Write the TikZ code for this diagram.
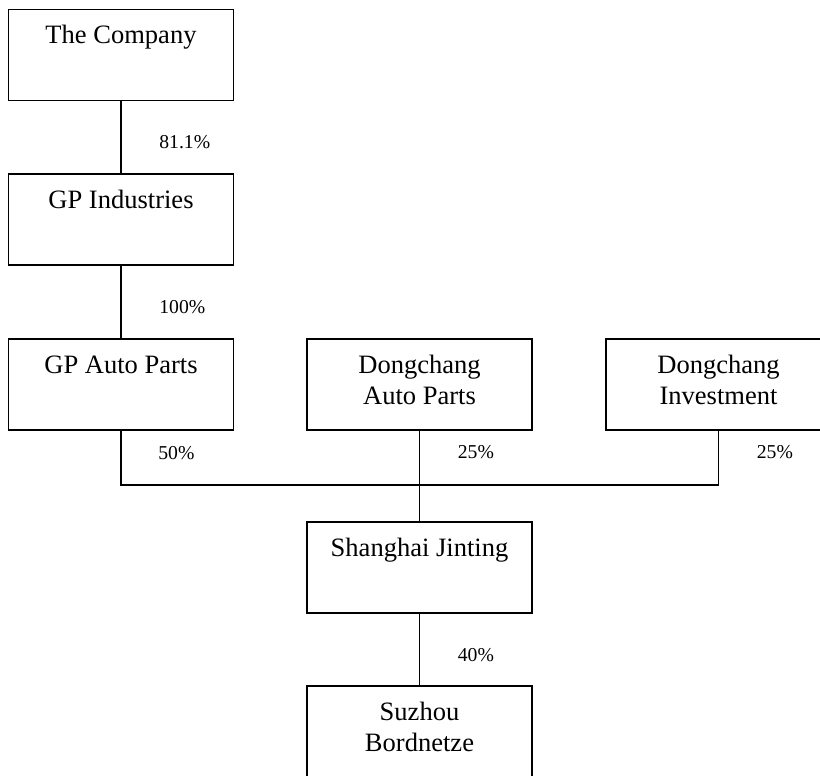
\documentclass[tikz,border=0pt]{standalone}
\usepackage{fontspec}
\setmainfont{Liberation Serif}
\usepackage{xcolor}
\usetikzlibrary{calc}
\definecolor{ink}{HTML}{000000}
\definecolor{paper}{HTML}{FFFFFF}
\tikzset{
  box/.style={draw=ink, line width=1.1pt, minimum width=4.5cm, minimum height=1.82cm, inner sep=0pt},
  link/.style={draw=ink, line width=1.1pt},
  boxtext/.style={text=ink, font=\fontsize{15.1}{17.6}\selectfont, align=center, anchor=base, inner sep=0pt},
  pct/.style={text=ink, font=\fontsize{11.2}{13}\selectfont, anchor=base west, inner sep=0pt}
}

\begin{document}
\begin{tikzpicture}[x=0.02cm, y=-0.02cm]
  \useasboundingbox (0,0) rectangle (820,775);
  \clip (0,0) rectangle (820,775);
  \fill[paper] (0,0) rectangle (820,775);

  \node[box] (comp)   at (121,55)      {};
  \node[box] (gpind)  at (121,219.5)   {};
  \node[box] (gpauto) at (121,384.5)   {};
  \node[box] (dcauto) at (419.5,384.5) {};
  \node[box] (dcinv)  at (718.5,384.5) {};
  \node[box] (jt)     at (419.5,567.5) {};
  \node[box] (sz)     at (419.5,731.5) {};

  % base of a two-line node is its last line
  \node[boxtext] (comp-t)   at ($(comp.north)+(0,35)$)   {The Company};
  \node[boxtext] (gpind-t)  at ($(gpind.north)+(0,35)$)  {GP Industries};
  \node[boxtext] (gpauto-t) at ($(gpauto.north)+(0,35)$) {GP Auto Parts};
  \node[boxtext] (dcauto-t) at ($(dcauto.north)+(0,66)$) {Dongchang\\Auto Parts};
  \node[boxtext] (dcinv-t)  at ($(dcinv.north)+(0,66)$)  {Dongchang\\Investment};
  \node[boxtext] (jt-t)     at ($(jt.north)+(0,35)$)     {Shanghai Jinting};
  \node[boxtext] (sz-t)     at ($(sz.north)+(0,66)$)     {Suzhou\\Bordnetze};

  \coordinate (bus) at (419.5,485);
  \draw[link] (comp.south) -- (gpind.north);
  \draw[link] (gpind.south) -- (gpauto.north);
  \draw[link] (gpauto.south) |- (bus) -| (dcinv.south);
  \draw[link] (dcauto.south) -- (jt.north);
  \draw[link] (jt.south) -- (sz.north);

  \node[pct] (p-comp)   at (159,148)   {81.1\%};
  \node[pct] (p-gpind)  at (159,313)   {100\%};
  \node[pct] (p-gpauto) at (158,459)   {50\%};
  \node[pct] (p-dcauto) at (457.5,458) {25\%};
  \node[pct] (p-dcinv)  at (756.5,458) {25\%};
  \node[pct] (p-jt)     at (457.5,661) {40\%};
\end{tikzpicture}
\end{document}
